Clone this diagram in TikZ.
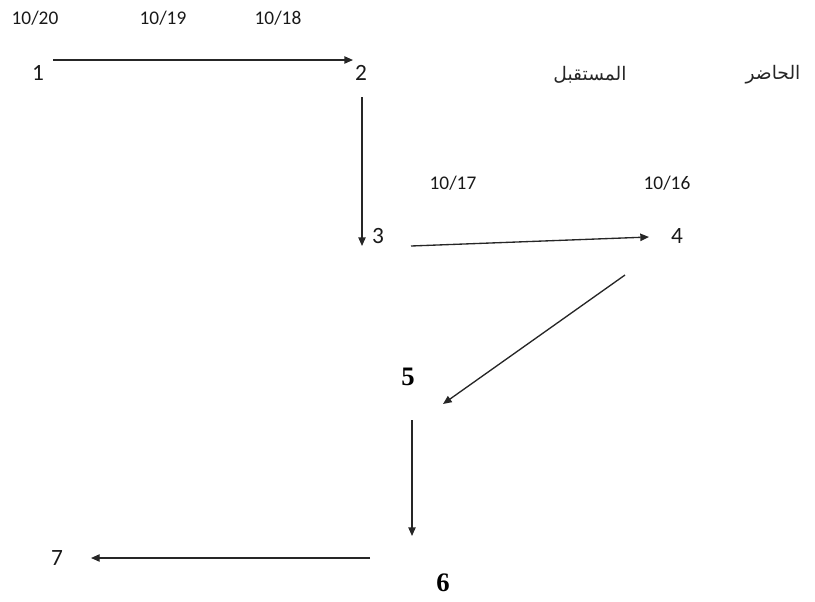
\documentclass[tikz,border=0pt]{standalone}
\usepackage{fontspec}
\setmainfont{Carlito}
\newfontfamily\serifbold{Liberation Serif}
\newfontfamily\arabicfont[Script=Arabic]{DejaVu Sans}
\TeXXeTstate=1
\usetikzlibrary{arrows.meta}
\begin{document}
\begin{tikzpicture}[x=0.75pt,y=-0.75pt,
  date/.style={font=\fontsize{14.5}{16}\selectfont, inner sep=0pt, text=black!90},
  num/.style={font=\fontsize{17.5}{20}\selectfont, inner sep=0pt, text=black!90},
  bnum/.style={font=\serifbold\bfseries\fontsize{20}{22}\selectfont, inner sep=0pt},
  ar/.style={font=\arabicfont\fontsize{14}{16}\selectfont, inner sep=0pt, text=black!85},
  arr/.style={draw=black!85, line width=1pt, -{Triangle[length=6.5pt,width=5.5pt]}}]
\useasboundingbox (0,0) rectangle (815,601);
% dates
\node[date] (d20) at (35,18) {10/20};
\node[date] (d19) at (163,18) {10/19};
\node[date] (d18) at (278,18) {10/18};
\node[date] (d17) at (453,183) {10/17};
\node[date] (d16) at (667,183) {10/16};
% arabic labels
\node[ar] (fut) at (590,75) {\beginR المستقبل\endR};
\node[ar] (pres) at (773,75) {\beginR الحاضر\endR};
% numbers
\node[num] (n1) at (38,73) {1};
\node[num] (n2) at (361,73) {2};
\node[num] (n3) at (378,236) {3};
\node[num] (n4) at (677,236) {4};
\node[bnum] (n5) at (408,377) {5};
\node[bnum] (n6) at (443,583) {6};
\node[num] (n7) at (57,558) {7};
% arrow endpoints
\coordinate (a1s) at (53,60);   \coordinate (a1e) at (353,60);
\coordinate (a2s) at (362,97);  \coordinate (a2e) at (362,246);
\coordinate (a3s) at (411,246); \coordinate (a3e) at (649,237);
\coordinate (a4s) at (625,275); \coordinate (a4e) at (443,404);
\coordinate (a5s) at (412,420); \coordinate (a5e) at (412,536);
\coordinate (a6s) at (370,558); \coordinate (a6e) at (91,558);
\draw[arr] (a1s) -- (a1e);
\draw[arr] (a2s) -- (a2e);
\draw[arr] (a3s) -- (a3e);
\draw[arr] (a4s) -- (a4e);
\draw[arr] (a5s) -- (a5e);
\draw[arr] (a6s) -- (a6e);
\end{tikzpicture}
\end{document}
